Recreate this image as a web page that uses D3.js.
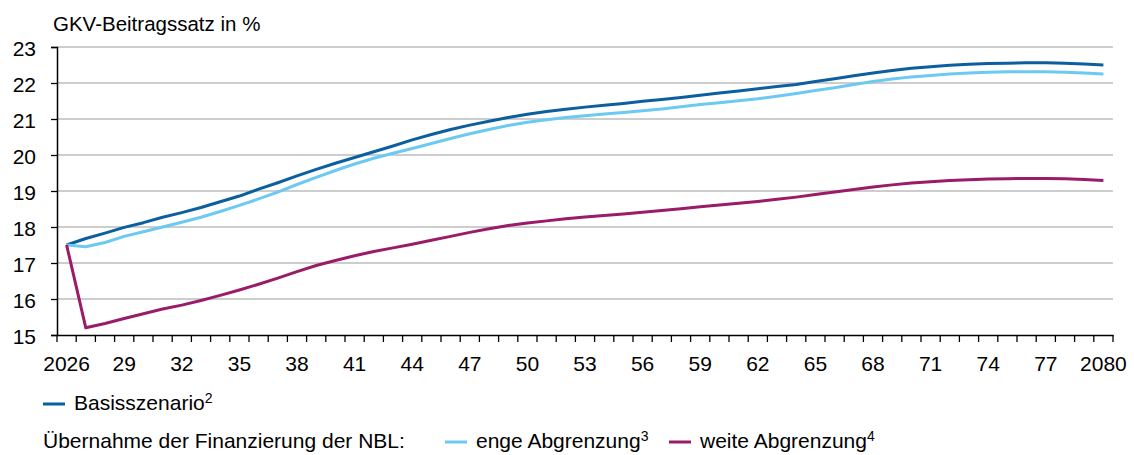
<!DOCTYPE html>
<html>
<head>
<meta charset="utf-8">
<script src="https://cdn.jsdelivr.net/npm/d3@7"></script>
<style>
  html, body { margin: 0; padding: 0; background: #ffffff; }
  svg { display: block; font-family: "Liberation Sans", Arial, sans-serif; }
</style>
</head>
<body>
<svg id="chart" width="1134" height="455"></svg>
<script>
// Projected GKV contribution rate, 2026–2080 (percent)
const years = d3.range(2026, 2081);

const basis = [
  17.50, 17.68, 17.83, 17.99, 18.12, 18.27, 18.40, 18.54, 18.70, 18.86,
  19.05, 19.23, 19.42, 19.60, 19.77, 19.93, 20.09, 20.25, 20.42, 20.57,
  20.71, 20.83, 20.94, 21.04, 21.13, 21.21, 21.27, 21.33, 21.38, 21.43,
  21.49, 21.54, 21.60, 21.66, 21.72, 21.78, 21.84, 21.90, 21.96, 22.04,
  22.12, 22.20, 22.28, 22.35, 22.41, 22.45, 22.49, 22.52, 22.54, 22.55,
  22.56, 22.56, 22.55, 22.53, 22.50
];

const enge = [
  17.50, 17.45, 17.57, 17.74, 17.87, 18.00, 18.13, 18.27, 18.43, 18.60,
  18.78, 18.97, 19.18, 19.38, 19.57, 19.75, 19.91, 20.05, 20.18, 20.32,
  20.46, 20.59, 20.71, 20.82, 20.91, 20.98, 21.04, 21.09, 21.14, 21.18,
  21.23, 21.28, 21.34, 21.40, 21.45, 21.51, 21.56, 21.63, 21.71, 21.79,
  21.87, 21.96, 22.04, 22.11, 22.17, 22.21, 22.25, 22.28, 22.30, 22.31,
  22.31, 22.31, 22.30, 22.28, 22.25
];

const weit = [
  17.50, 15.20, 15.32, 15.46, 15.59, 15.72, 15.83, 15.96, 16.10, 16.25,
  16.41, 16.58, 16.76, 16.93, 17.07, 17.20, 17.32, 17.42, 17.52, 17.63,
  17.74, 17.85, 17.95, 18.04, 18.11, 18.17, 18.23, 18.28, 18.32, 18.36,
  18.41, 18.46, 18.51, 18.56, 18.61, 18.66, 18.71, 18.77, 18.83, 18.90,
  18.97, 19.04, 19.11, 19.17, 19.22, 19.26, 19.29, 19.31, 19.33, 19.34,
  19.35, 19.35, 19.34, 19.32, 19.29
];

const yTicks = [15, 16, 17, 18, 19, 20, 21, 22, 23];
const xLabelYears = d3.range(2026, 2081, 3);

const series = [
  { name: "basis", values: basis, color: "#0b5f9e" },
  { name: "enge",  values: enge,  color: "#6cc9f1" },
  { name: "weit",  values: weit,  color: "#9a1b68" }
];

const svg = d3.select("#chart");
const plotLeft = 57, plotRight = 1113, plotTop = 47, plotBottom = 335;
const fontSize = 21;

const x = d3.scaleBand().domain(years).range([plotLeft, plotRight]).paddingInner(0).paddingOuter(0);
const bw = x.bandwidth();
const cx = yr => x(yr) + bw / 2;
const y = d3.scaleLinear().domain([15, 23]).range([plotBottom, plotTop]);

// Horizontal gridlines
svg.append("g")
  .selectAll("line")
  .data(yTicks.filter(v => v > 15))
  .join("line")
  .attr("x1", plotLeft).attr("x2", plotRight)
  .attr("y1", d => y(d)).attr("y2", d => y(d))
  .attr("stroke", "#bcbcbc").attr("stroke-width", 1.3);

// Y axis
const yAxis = svg.append("g")
  .attr("transform", `translate(${plotLeft},0)`)
  .call(d3.axisLeft(y).tickValues(yTicks).tickSize(6).tickPadding(15).tickFormat(d3.format("d")));
yAxis.select(".domain").attr("stroke", "#000").attr("stroke-width", 1.5);
yAxis.selectAll(".tick line").attr("stroke", "#000").attr("stroke-width", 1.3);
yAxis.selectAll("text").attr("font-size", fontSize).attr("fill", "#000")
  .attr("font-family", "Liberation Sans, Arial, sans-serif").attr("dy", "0.4em");

// X axis: labels every third year, tick marks at the category boundaries
const xAxis = svg.append("g")
  .attr("transform", `translate(0,${plotBottom})`)
  .call(d3.axisBottom(x).tickValues(xLabelYears).tickSize(0).tickPadding(21)
    .tickFormat(d => (d === 2026 || d === 2080) ? String(d) : String(d).slice(2)));
xAxis.select(".domain").attr("stroke", "#000").attr("stroke-width", 1.5);
xAxis.selectAll("text").attr("font-size", fontSize).attr("fill", "#000")
  .attr("font-family", "Liberation Sans, Arial, sans-serif");

const boundaries = years.map(d => x(d)).concat([x(years[years.length - 1]) + bw]);
svg.append("g")
  .selectAll("line")
  .data(boundaries)
  .join("line")
  .attr("x1", d => d).attr("x2", d => d)
  .attr("y1", plotBottom).attr("y2", plotBottom + 7)
  .attr("stroke", "#000").attr("stroke-width", 1.3);

// Lines
const line = d3.line()
  .x((d, i) => cx(years[i]))
  .y(d => y(d));

svg.append("g")
  .selectAll("path")
  .data(series)
  .join("path")
  .attr("d", d => line(d.values))
  .attr("fill", "none")
  .attr("stroke", d => d.color)
  .attr("stroke-width", 3)
  .attr("stroke-linejoin", "round");

// Axis title
svg.append("text")
  .attr("x", 53).attr("y", 31)
  .attr("font-size", 20.5)
  .attr("fill", "#000")
  .text("GKV-Beitragssatz in %");

// Legend
const legend = svg.append("g").attr("font-size", fontSize).attr("fill", "#000");

function legendItem(g, x0, baseline, color, label, sup) {
  g.append("line")
    .attr("x1", x0).attr("x2", x0 + 22)
    .attr("y1", baseline - 6).attr("y2", baseline - 6)
    .attr("stroke", color).attr("stroke-width", 3);
  const t = g.append("text").attr("x", x0 + 31).attr("y", baseline);
  t.append("tspan").text(label);
  t.append("tspan").attr("font-size", 14).attr("dy", -7).text(sup);
  return t;
}

legendItem(legend, 43, 410, series[0].color, "Basisszenario", "2");

legend.append("text").attr("x", 43).attr("y", 448).text("Übernahme der Finanzierung der NBL:");
legendItem(legend, 445, 448, series[1].color, "enge Abgrenzung", "3");
legendItem(legend, 669, 448, series[2].color, "weite Abgrenzung", "4");
</script>
</body>
</html>
